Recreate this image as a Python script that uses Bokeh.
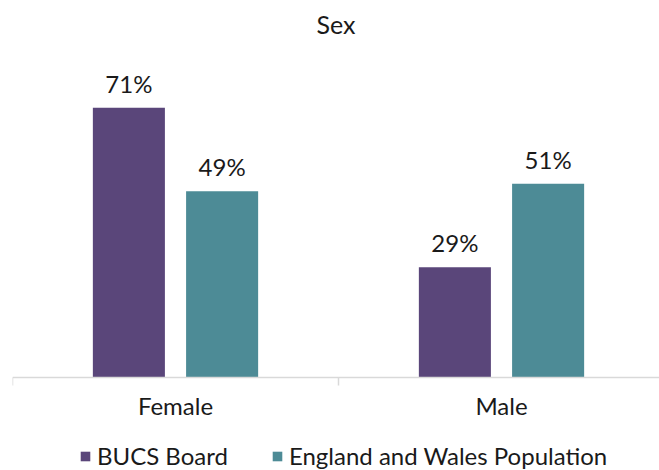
from bokeh.plotting import figure
from bokeh.models import (ColumnDataSource, Range1d, FixedTicker, LabelSet,
                          Legend, LegendItem, Title)
from bokeh.core.properties import value
from bokeh.embed import file_html
from bokeh.resources import INLINE

categories = ["Female", "Male"]
series_names = ["BUCS Board", "England and Wales Population"]
bucs_board = [71, 29]
england_wales = [49, 51]
label_text_bucs = ["71%", "29%"]
label_text_ew = ["49%", "51%"]

colors = ["#5a467a", "#4d8b96"]
FONT = "Lato"
FS = "24px"

centers = [i + 0.5 for i in range(len(categories))]
offset = 0.143
bar_w = 0.221

src1 = ColumnDataSource(dict(x=[c - offset for c in centers], top=bucs_board, lab=label_text_bucs))
src2 = ColumnDataSource(dict(x=[c + offset for c in centers], top=england_wales, lab=label_text_ew))

p = figure(width=659, height=470, output_backend="svg", toolbar_location=None,
           x_range=Range1d(0, 647 / 326), y_range=Range1d(-93 / 3.8, 335 / 3.8),
           min_border_left=12, min_border_right=0, min_border_top=42, min_border_bottom=0)
p.outline_line_color = None
p.grid.visible = False
p.yaxis.visible = False
p.background_fill_color = "white"
p.border_fill_color = "white"

p.title = Title(text="Sex", align="center", text_font=FONT, text_font_size="25px",
                text_font_style="normal", text_color="#1a1a1a", standoff=7)

r1 = p.vbar(x="x", top="top", width=bar_w, source=src1, fill_color=colors[0], line_color=None)
r2 = p.vbar(x="x", top="top", width=bar_w, source=src2, fill_color=colors[1], line_color=None)

for src in (src1, src2):
    p.add_layout(LabelSet(x="x", y="top", text="lab", source=src, y_offset=15,
                          text_align="center", text_baseline="alphabetic",
                          text_font=value(FONT), text_font_size=value(FS), text_color="#1a1a1a"))

xa = p.xaxis[0]
xa.fixed_location = 0
xa.ticker = FixedTicker(ticks=centers, minor_ticks=[0, 1, 2])
xa.major_label_overrides = {c: name for c, name in zip(centers, categories)}
xa.major_tick_out = 0
xa.major_tick_in = 0
xa.minor_tick_out = 8
xa.minor_tick_in = 0
xa.minor_tick_line_color = "#d9d9d9"
xa.minor_tick_line_width = 1.5
xa.axis_line_color = "#d9d9d9"
xa.axis_line_width = 1.5
xa.major_label_standoff = 5
xa.major_label_text_font = FONT
xa.major_label_text_font_size = FS
xa.major_label_text_color = "#1a1a1a"

legend = Legend(items=[LegendItem(label=series_names[0], renderers=[r1]),
                       LegendItem(label=series_names[1], renderers=[r2])],
                orientation="horizontal", location=(67, 0),
                label_text_font=FONT, label_text_font_size=FS, label_text_color="#1a1a1a",
                glyph_width=12, glyph_height=12, label_height=22, label_standoff=6, spacing=43,
                border_line_color=None, background_fill_alpha=0, padding=0, margin=0)
p.add_layout(legend, "center")

open("out.html", "w").write(file_html(p, INLINE))
